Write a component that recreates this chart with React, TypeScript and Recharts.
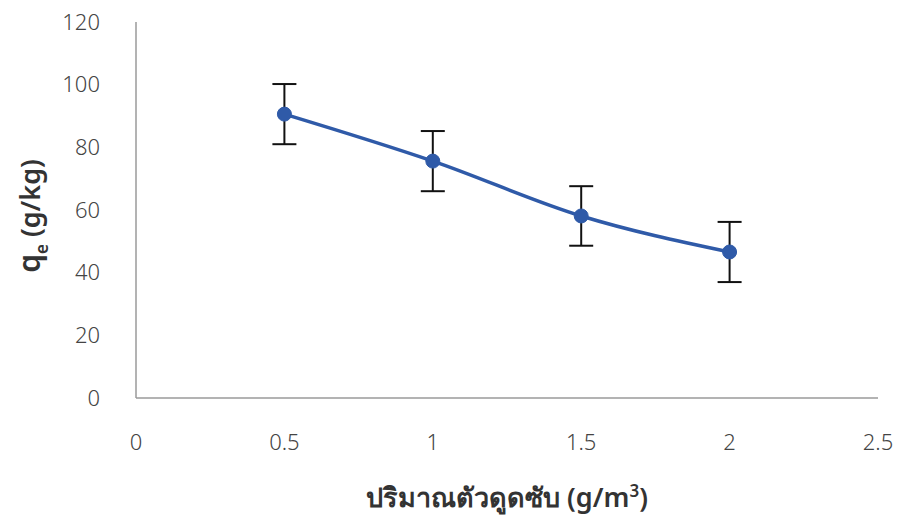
import { ComposedChart, Line, XAxis, YAxis, ErrorBar, Label } from 'recharts'

const dosage = [0.5, 1, 1.5, 2]
const qe = [90.6, 75.6, 58.1, 46.6]
const qeErr = [9.6, 9.6, 9.5, 9.6]
const xTicks = [0, 0.5, 1, 1.5, 2, 2.5]
const yTicks = [0, 20, 40, 60, 80, 100, 120]

const data = dosage.map((x, i) => ({ x, qe: qe[i], err: qeErr[i] }))

const LINE = '#2f5aa8'
const FONT = '"Noto Sans", "DejaVu Sans", sans-serif'

export default function App() {
  return (
    <div style={{ position: 'absolute', top: 0, left: 0, background: '#fff' }}>
      <ComposedChart
        width={900}
        height={525}
        data={data}
        margin={{ top: 22, right: 22, left: 60, bottom: 67 }}
      >
        <XAxis
          dataKey="x"
          type="number"
          domain={[0, 2.5]}
          ticks={xTicks}
          height={60}
          axisLine={{ stroke: '#9a9a9a', strokeWidth: 1.5 }}
          tickLine={false}
          tickMargin={30}
          tick={{ fill: '#444', fontSize: 22, fontFamily: FONT, fontWeight: 300 }}
        >
          <Label
            content={() => (
              <text x={507} y={507} textAnchor="middle" fill="#333" fontSize={27} fontFamily={FONT} fontWeight={600}>
                ปริมาณตัวดูดซับ (g/m
                <tspan dy={-10} fontSize={17}>3</tspan>
                <tspan dy={10}>)</tspan>
              </text>
            )}
          />
        </XAxis>
        <YAxis
          type="number"
          domain={[0, 120]}
          ticks={yTicks}
          width={76}
          axisLine={{ stroke: '#9a9a9a', strokeWidth: 1.5 }}
          tickLine={false}
          tickMargin={30}
          tick={{ fill: '#444', fontSize: 22, fontFamily: FONT, fontWeight: 300 }}
        >
          <Label
            content={() => (
              <text
                transform="translate(40, 216) rotate(-90)"
                textAnchor="middle"
                fill="#333"
                fontSize={30}
                fontFamily={FONT}
                fontWeight={600}
              >
                q
                <tspan dy={8} fontSize={17}>e</tspan>
                <tspan dy={-8} fontSize={27}> (g/kg)</tspan>
              </text>
            )}
          />
        </YAxis>
        <Line
          dataKey="qe"
          type="monotone"
          stroke={LINE}
          strokeWidth={3.5}
          dot={{ r: 7, fill: LINE, stroke: LINE, strokeWidth: 1 }}
          isAnimationActive={false}
        >
          <ErrorBar dataKey="err" direction="y" width={12} stroke="#111" strokeWidth={2} />
        </Line>
      </ComposedChart>
    </div>
  )
}
